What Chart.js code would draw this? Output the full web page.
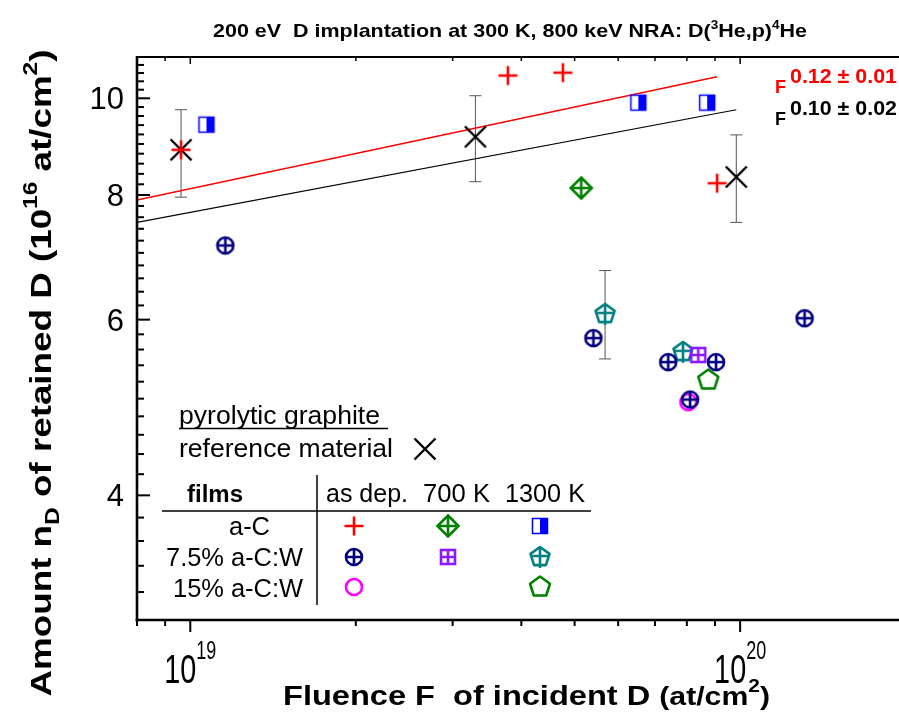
<!DOCTYPE html>
<html>
<head>
<meta charset="utf-8">
<script src="https://cdn.jsdelivr.net/npm/chart.js@4.4.1/dist/chart.umd.min.js"></script>
<style>
  html, body { margin: 0; padding: 0; background: #fff; }
  canvas { display: block; }
</style>
</head>
<body>
<canvas id="nraChart" width="899" height="717"></canvas>
<script>
// ---- data (fluence in at/cm2, amount in 1e16 at/cm2) ----
const aCasDepX = [9.62e18, 3.78e19, 4.76e19, 9.08e19];
const aCasDepY = [8.88, 10.54, 10.61, 8.22];

const aC700X = [5.14e19];
const aC700Y = [8.13];

const aC1300X = [1.07e19, 6.53e19, 8.71e19];
const aC1300Y = [9.41, 9.90, 9.90];

const w75asDepX = [1.158e19, 5.41e19, 7.40e19, 9.04e19, 8.11e19, 1.31e20];
const w75asDepY = [7.12, 5.75, 5.44, 5.44, 4.99, 6.02];

const w75700X = [8.39e19];
const w75700Y = [5.53];

const w751300X = [5.68e19, 7.87e19];
const w751300Y = [6.08, 5.57];
const w751300Lo = [5.48, null];
const w751300Hi = [6.72, null];

const w15asDepX = [8.05e19];
const w15asDepY = [4.96];

const w151300X = [8.75e19];
const w151300Y = [5.22];

// pyrolytic graphite reference with error bars
const refX = [9.62e18, 3.30e19, 9.84e19];
const refY = [8.88, 9.15, 8.34];
const refLo = [7.96, 8.25, 7.51];
const refHi = [9.74, 10.06, 9.19];

// power-law fits, end points
const fitRedX = [8.0e18, 9.08e19];
const fitRedY = [7.91, 10.51];
const fitBlackX = [8.0e18, 9.84e19];
const fitBlackY = [7.51, 9.74];

// axis ticks
const xMinorTicks = [8e18, 9e18, 2e19, 3e19, 4e19, 5e19, 6e19, 7e19, 8e19, 9e19];
const xMajorTicks = [1e19, 1e20];
const xMajorExp = ['19', '20'];
const yMajorTicks = [4, 6, 8, 10];

const B = s => 'bold ' + s + 'px "Liberation Sans", Arial, sans-serif';
const R = s => s + 'px "Liberation Sans", Arial, sans-serif';

// ---- marker images ----
function marker(size, draw) {
  const c = document.createElement('canvas');
  c.width = size; c.height = size;
  const g = c.getContext('2d');
  g.translate(size / 2, size / 2);
  g.lineCap = 'butt';
  draw(g);
  return c;
}
function pentPath(g, r) {
  g.beginPath();
  for (let i = 0; i < 5; i++) {
    const a = -Math.PI / 2 + i * 2 * Math.PI / 5;
    const px = r * Math.cos(a), py = r * Math.sin(a);
    if (i === 0) g.moveTo(px, py); else g.lineTo(px, py);
  }
  g.closePath();
}
const mk = {
  plusRed: marker(22, g => {
    g.strokeStyle = '#ff0000'; g.lineWidth = 2.6;
    g.beginPath(); g.moveTo(-9.5, 0); g.lineTo(9.5, 0); g.moveTo(0, -9.5); g.lineTo(0, 9.5); g.stroke();
  }),
  xBlack: marker(26, g => {
    g.strokeStyle = '#000'; g.lineWidth = 2.4;
    g.beginPath(); g.moveTo(-10.5, -10.5); g.lineTo(10.5, 10.5); g.moveTo(10.5, -10.5); g.lineTo(-10.5, 10.5); g.stroke();
  }),
  circPlus: marker(24, g => {
    g.strokeStyle = '#000080'; g.lineWidth = 2.6;
    g.beginPath(); g.arc(0, 0, 8, 0, 2 * Math.PI); g.stroke();
    g.beginPath(); g.moveTo(-8, 0); g.lineTo(8, 0); g.moveTo(0, -8); g.lineTo(0, 8); g.stroke();
  }),
  diamondPlus: marker(28, g => {
    g.strokeStyle = '#008000'; g.lineWidth = 2.6;
    g.beginPath(); g.moveTo(0, -10.5); g.lineTo(10.5, 0); g.lineTo(0, 10.5); g.lineTo(-10.5, 0); g.closePath(); g.stroke();
    g.beginPath(); g.moveTo(-10.5, 0); g.lineTo(10.5, 0); g.moveTo(0, -10.5); g.lineTo(0, 10.5); g.stroke();
  }),
  halfSquare: marker(20, g => {
    g.fillStyle = '#fff'; g.fillRect(-7.5, -7.5, 15, 15);
    g.fillStyle = '#0000ff'; g.fillRect(0, -7.5, 7.5, 15);
    g.strokeStyle = '#0000ff'; g.lineWidth = 1.5; g.strokeRect(-7.5, -7.5, 15, 15);
  }),
  squarePlus: marker(20, g => {
    g.strokeStyle = '#8c1aff'; g.lineWidth = 2.6;
    g.strokeRect(-7, -7, 14, 14);
    g.beginPath(); g.moveTo(-7, 0); g.lineTo(7, 0); g.moveTo(0, -7); g.lineTo(0, 7); g.stroke();
  }),
  pentPlus: marker(26, g => {
    g.strokeStyle = '#008080'; g.lineWidth = 2.6; g.lineJoin = 'round';
    pentPath(g, 10); g.stroke();
    g.beginPath(); g.moveTo(-9.5, -1); g.lineTo(9.5, -1); g.moveTo(0, -10); g.lineTo(0, 11); g.stroke();
  }),
  pentGreen: marker(26, g => {
    g.strokeStyle = '#008000'; g.lineWidth = 2.6; g.lineJoin = 'round';
    pentPath(g, 10.5); g.stroke();
  }),
  circMagenta: marker(24, g => {
    g.strokeStyle = '#ff00ff'; g.lineWidth = 2.6;
    g.beginPath(); g.arc(0, 0, 8, 0, 2 * Math.PI); g.stroke();
  })
};

function pts(xs, ys) { return xs.map((x, i) => ({ x: x, y: ys[i] })); }
function scatterSet(label, xs, ys, img) {
  return { label: label, data: pts(xs, ys), pointStyle: img, pointRadius: 10, showLine: false };
}

// ---- rich text helper (superscripts, fitted widths) ----
function partsWidth(ctx, parts) {
  let w = 0;
  for (const p of parts) { ctx.font = p.f; w += ctx.measureText(p.t).width; }
  return w;
}
function drawRich(ctx, parts, x, y, o) {
  o = o || {};
  const w = partsWidth(ctx, parts);
  const sx = o.width ? o.width / w : (o.sx || 1);
  ctx.save();
  ctx.translate(x, y);
  if (o.rot) ctx.rotate(o.rot);
  ctx.scale(sx, 1);
  let cx = o.align === 'center' ? -w / 2 : (o.align === 'right' ? -w : 0);
  ctx.textAlign = 'left';
  ctx.textBaseline = 'alphabetic';
  for (const p of parts) {
    ctx.font = p.f;
    ctx.fillStyle = p.c || o.color || '#000';
    ctx.fillText(p.t, cx, p.dy || 0);
    cx += ctx.measureText(p.t).width;
  }
  ctx.restore();
}
function line(ctx, x1, y1, x2, y2, w, c) {
  ctx.beginPath();
  ctx.lineWidth = w; ctx.strokeStyle = c || '#000';
  ctx.moveTo(x1, y1); ctx.lineTo(x2, y2); ctx.stroke();
}

const decor = {
  id: 'decor',
  beforeDatasetsDraw(chart) {
    const ctx = chart.ctx, xs = chart.scales.x, ys = chart.scales.y;
    ctx.save();
    const bars = [[refX, refLo, refHi], [w751300X, w751300Lo, w751300Hi]];
    bars.forEach(([bx, lo, hi]) => {
      bx.forEach((v, i) => {
        if (lo[i] == null) return;
        const px = xs.getPixelForValue(v);
        const y1 = ys.getPixelForValue(lo[i]), y2 = ys.getPixelForValue(hi[i]);
        line(ctx, px, y1, px, y2, 1, '#555');
        line(ctx, px - 6, y1, px + 6, y1, 1, '#555');
        line(ctx, px - 6, y2, px + 6, y2, 1, '#555');
      });
    });
    ctx.restore();
  },
  afterDraw(chart) {
    const ctx = chart.ctx, a = chart.chartArea, xs = chart.scales.x, ys = chart.scales.y;
    ctx.save();
    ctx.lineCap = 'butt';
    // frame
    line(ctx, a.left, a.top, a.right, a.top, 2);
    line(ctx, a.left, a.top - 1, a.left, a.bottom + 1.5, 2.6);
    line(ctx, a.left - 1.3, a.bottom, a.right, a.bottom, 2.6);

    // y ticks (inside)
    for (let i = 15; i <= 55; i++) {
      const v = i / 5;
      const py = ys.getPixelForValue(v);
      const major = yMajorTicks.indexOf(v) >= 0;
      line(ctx, a.left, py, a.left + (major ? 13 : 7), py, 2);
    }
    yMajorTicks.forEach(v => {
      const py = ys.getPixelForValue(v);
      drawRich(ctx, [{ t: String(v), f: R(31) }], 124, py + 11, { align: 'right' });
    });

    // x ticks (bottom outside, top inside)
    xMinorTicks.forEach(v => {
      const px = xs.getPixelForValue(v);
      line(ctx, px, a.bottom, px, a.bottom + 6, 2);
      line(ctx, px, a.top, px, a.top + 4, 1.5);
    });
    xMajorTicks.forEach((v, i) => {
      const px = xs.getPixelForValue(v);
      line(ctx, px, a.bottom, px, a.bottom + 12, 2);
      line(ctx, px, a.top, px, a.top + 7, 1.5);
      drawRich(ctx, [{ t: '10', f: R(40) }, { t: xMajorExp[i], f: R(25), dy: -24 }], px, 683,
        { align: 'center', sx: 0.72 });
    });

    // titles
    drawRich(ctx, [
      { t: '200 eV  D implantation at 300 K, 800 keV NRA: D(', f: B(19) },
      { t: '3', f: B(12), dy: -8 },
      { t: 'He,p)', f: B(19) },
      { t: '4', f: B(12), dy: -8 },
      { t: 'He', f: B(19) }
    ], 510, 37, { align: 'center', width: 594 });

    drawRich(ctx, [
      { t: 'Fluence F  of incident D ', f: B(28) },
      { t: '(at/cm', f: B(26) },
      { t: '2', f: B(18), dy: -13 },
      { t: ')', f: B(26) }
    ], 283, 705, { width: 487 });

    drawRich(ctx, [
      { t: 'Amount n', f: B(30) },
      { t: 'D', f: B(20), dy: 8 },
      { t: ' of retained D (10', f: B(30) },
      { t: '16', f: B(20), dy: -14 },
      { t: ' at/cm', f: B(30) },
      { t: '2', f: B(20), dy: -14 },
      { t: ')', f: B(30) }
    ], 51, 373, { rot: -Math.PI / 2, align: 'center', width: 647 });

    // fit annotations
    drawRich(ctx, [{ t: 'F', f: B(18), c: '#ff0000' }], 775, 93, {});
    drawRich(ctx, [{ t: '0.12 \u00b1 0.01', f: B(20), c: '#ff0000' }], 790, 83, { width: 107 });
    drawRich(ctx, [{ t: 'F', f: B(18) }], 775, 125, {});
    drawRich(ctx, [{ t: '0.10 \u00b1 0.02', f: B(20) }], 790, 115, { width: 107 });

    // legend
    drawRich(ctx, [{ t: 'pyrolytic graphite', f: R(25) }], 179, 424, { width: 201 });
    line(ctx, 179, 428.5, 388, 428.5, 1.5);
    drawRich(ctx, [{ t: 'reference material', f: R(25) }], 179, 457, { width: 214 });
    ctx.drawImage(mk.xBlack, 425 - 13, 449 - 13);

    drawRich(ctx, [{ t: 'films', f: B(23) }], 187, 502, { width: 56 });
    drawRich(ctx, [{ t: 'as dep.', f: R(25) }], 326, 502, { width: 82 });
    drawRich(ctx, [{ t: '700 K', f: R(25) }], 423, 502, { width: 67 });
    drawRich(ctx, [{ t: '1300 K', f: R(25) }], 505, 502, { width: 80 });
    line(ctx, 162, 511, 591, 511, 1.5);
    line(ctx, 317, 475, 317, 605, 1.5);

    drawRich(ctx, [{ t: 'a-C', f: R(25) }], 229, 535, { width: 41 });
    drawRich(ctx, [{ t: '7.5% a-C:W', f: R(25) }], 166, 566, { width: 137 });
    drawRich(ctx, [{ t: '15% a-C:W', f: R(25) }], 173, 597, { width: 130 });

    const cols = [354, 448, 540], rows = [526, 557, 587];
    const grid = [[mk.plusRed, mk.diamondPlus, mk.halfSquare],
                  [mk.circPlus, mk.squarePlus, mk.pentPlus],
                  [mk.circMagenta, null, mk.pentGreen]];
    grid.forEach((r, ri) => r.forEach((m, ci) => {
      if (m) ctx.drawImage(m, cols[ci] - m.width / 2, rows[ri] - m.height / 2);
    }));
    ctx.restore();
  }
};

new Chart(document.getElementById('nraChart').getContext('2d'), {
  type: 'scatter',
  data: {
    datasets: [
      scatterSet('a-C as dep.', aCasDepX, aCasDepY, mk.plusRed),
      scatterSet('pyrolytic graphite', refX, refY, mk.xBlack),
      scatterSet('a-C 1300 K', aC1300X, aC1300Y, mk.halfSquare),
      scatterSet('a-C 700 K', aC700X, aC700Y, mk.diamondPlus),
      scatterSet('7.5% a-C:W as dep.', w75asDepX, w75asDepY, mk.circPlus),
      scatterSet('7.5% a-C:W 700 K', w75700X, w75700Y, mk.squarePlus),
      scatterSet('7.5% a-C:W 1300 K', w751300X, w751300Y, mk.pentPlus),
      scatterSet('15% a-C:W 1300 K', w151300X, w151300Y, mk.pentGreen),
      scatterSet('15% a-C:W as dep.', w15asDepX, w15asDepY, mk.circMagenta),
      { label: 'fit a-C', data: pts(fitRedX, fitRedY), showLine: true, pointRadius: 0,
        borderColor: '#ff0000', borderWidth: 1.5 },
      { label: 'fit graphite', data: pts(fitBlackX, fitBlackY), showLine: true, pointRadius: 0,
        borderColor: '#000', borderWidth: 1.2 }
    ]
  },
  options: {
    responsive: false,
    animation: false,
    devicePixelRatio: 1,
    layout: { autoPadding: false, padding: { left: 137, top: 57, right: 0, bottom: 97 } },
    scales: {
      x: { type: 'logarithmic', min: 8e18, max: 1.945e20, display: false },
      y: { type: 'logarithmic', min: 3, max: 11, display: false }
    },
    plugins: {
      legend: { display: false },
      tooltip: { enabled: false }
    }
  },
  plugins: [decor]
});
</script>
</body>
</html>
